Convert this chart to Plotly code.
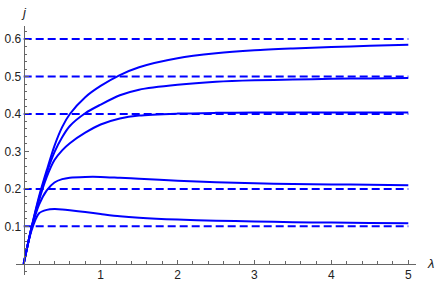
import numpy as np
import plotly.graph_objects as go

# ---- data ----
lam = [0, 0.1, 0.2, 0.3, 0.4, 0.5, 0.6, 0.8, 1.0, 1.25, 1.5, 2.0, 2.5, 3.0, 3.5, 4.0, 4.5, 5.0]
j_06 = [0, 0.095, 0.18, 0.25, 0.315, 0.365, 0.40, 0.445, 0.475, 0.504, 0.525, 0.549, 0.562, 0.570, 0.575, 0.579, 0.582, 0.585]
j_05 = [0, 0.095, 0.175, 0.243, 0.298, 0.338, 0.368, 0.402, 0.425, 0.450, 0.465, 0.478, 0.486, 0.490, 0.492, 0.494, 0.495, 0.496]
j_04 = [0, 0.094, 0.17, 0.232, 0.277, 0.303, 0.322, 0.350, 0.372, 0.388, 0.396, 0.401, 0.403, 0.404, 0.404, 0.404, 0.404, 0.404]
j_02 = [0, 0.093, 0.158, 0.196, 0.217, 0.226, 0.230, 0.232, 0.232, 0.2295, 0.227, 0.222, 0.218, 0.215, 0.213, 0.212, 0.211, 0.210]
j_01 = [0, 0.088, 0.135, 0.144, 0.146, 0.145, 0.143, 0.138, 0.133, 0.127, 0.123, 0.118, 0.115, 0.113, 0.111, 0.110, 0.109, 0.108]
curves = [j_06, j_05, j_04, j_02, j_01]
limits = [0.6, 0.5, 0.4, 0.2, 0.1]
x_ticks = [1, 2, 3, 4, 5]
x_ticklabels = ["1", "2", "3", "4", "5"]
y_ticks = [0.1, 0.2, 0.3, 0.4, 0.5, 0.6]
y_ticklabels = ["0.1", "0.2", "0.3", "0.4", "0.5", "0.6"]

BLUE = "rgb(0,0,255)"
AX = "#666666"
TXT = "#222222"

fig = go.Figure()
for lim in limits:
    fig.add_trace(go.Scatter(x=[0, 5], y=[lim, lim], mode="lines",
                             line=dict(color=BLUE, width=2, dash="8px,4px"),
                             hoverinfo="skip", showlegend=False))
for c in curves:
    fig.add_trace(go.Scatter(x=lam, y=c, mode="lines",
                             line=dict(color=BLUE, width=2, shape="spline", smoothing=0.8),
                             showlegend=False))

xr = [-0.1, 5.1]
yr = [-0.03, 0.635]
xpos = (0 - yr[0]) / (yr[1] - yr[0])
ypos = (0 - xr[0]) / (xr[1] - xr[0])

x_minor = [round(v, 2) for v in np.arange(-0.0, 5.11, 0.2) if abs(v - round(v)) > 1e-6]
y_minor = [round(v, 3) for v in np.arange(-0.02, 0.635, 0.02) if abs(v * 10 - round(v * 10)) > 1e-6]

fig.update_layout(
    width=436, height=286,
    margin=dict(l=15.8, r=19.8, t=26, b=11.3, autoexpand=False),
    paper_bgcolor="white", plot_bgcolor="white",
    font=dict(family="Liberation Sans, Arial, sans-serif", size=12, color=TXT),
    xaxis=dict(range=xr, anchor="free", position=xpos, showgrid=False, zeroline=False,
               automargin=False,
               showline=True, linecolor=AX, linewidth=1,
               tickmode="array", tickvals=x_ticks, ticktext=x_ticklabels,
               ticks="inside", ticklen=4, tickcolor=AX, tickwidth=1,
               minor=dict(tickmode="array", tickvals=x_minor, ticks="inside", ticklen=2.5,
                          tickcolor=AX, tickwidth=1, showgrid=False),
               tickfont=dict(size=12, color=TXT)),
    yaxis=dict(range=yr, anchor="free", position=ypos, showgrid=False, zeroline=False,
               automargin=False,
               showline=True, linecolor=AX, linewidth=1,
               tickmode="array", tickvals=y_ticks, ticktext=y_ticklabels,
               ticks="inside", ticklen=4, tickcolor=AX, tickwidth=1,
               minor=dict(tickmode="array", tickvals=y_minor, ticks="inside", ticklen=2.5,
                          tickcolor=AX, tickwidth=1, showgrid=False),
               tickfont=dict(size=12, color=TXT)),
    annotations=[
        dict(x=0, y=0.635, xref="x", yref="y", text="<i>j</i>", showarrow=False,
             yshift=14, font=dict(size=13, color=TXT)),
        dict(x=5.1, y=0, xref="x", yref="y", text="<i>λ</i>", showarrow=False,
             xanchor="center", xshift=14, font=dict(size=13, color=TXT)),
    ],
)

fig.write_html("out.html", config={"displayModeBar": False},
               post_script="document.body.style.margin='0px';")
